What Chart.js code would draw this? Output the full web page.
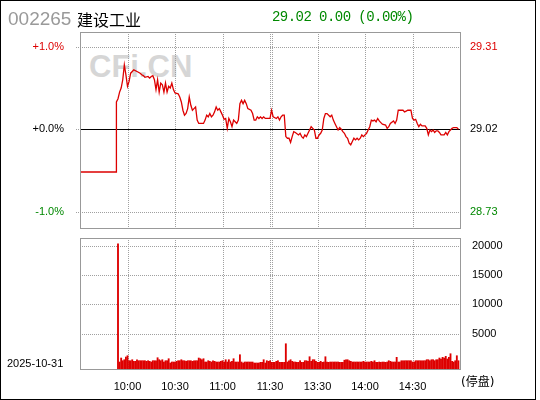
<!DOCTYPE html>
<html lang="zh">
<head>
<meta charset="UTF-8">
<title>002265 建设工业 分时</title>
<script src="https://cdn.jsdelivr.net/npm/chart.js"></script>
<style>
    body {
        margin: 0;
        background: #fff;
    }
    #wrap {
        position: relative;
        width: 540px;
        height: 400px;
        overflow: hidden;
    }
    #frame {
        position: absolute;
        left: 0; top: 0;
        width: 536px; height: 400px;
        box-sizing: border-box;
        border: 1px solid #000;
    }
    .txt {
        position: absolute;
        white-space: nowrap;
        line-height: 1;
        z-index: 2;
    }
    #code { left: 8px; top: 8px; font: 19px "Liberation Sans", Arial, sans-serif; color: #999; }
    #name { left: 77px; top: 7px; font: 16px "Noto Sans CJK SC", sans-serif; color: #000; }
    #quote { left: 272px; top: 9px; font: 14px "Liberation Mono", monospace; letter-spacing: -0.55px; color: #008800; }
    #mark { left: 89px; top: 49px; font: bold 31px "Liberation Sans", Arial, sans-serif; color: #d6d6d6; z-index: 0; }
    #date { left: 7px; top: 357px; font: 11px "Liberation Sans", sans-serif; color: #000; }
    #halt { left: 461px; top: 372px; width: 50px; font: 12px "DejaVu Sans", "Noto Sans CJK SC", sans-serif; color: #000; }
    canvas { position: absolute; left: 0; z-index: 1; }
    #price { top: 0; }
    #volume { top: 232px; }
</style>
</head>
<body>
<div id="wrap">
    <div id="frame"></div>
    <div class="txt" id="mark">CFi.CN</div>
    <div class="txt" id="code">002265</div>
    <div class="txt" id="name">建设工业</div>
    <div class="txt" id="quote">29.02 0.00 (0.00%)</div>
    <div class="txt" id="date">2025-10-31</div>
    <div class="txt" id="halt">(停盘)</div>
    <canvas id="price" width="540" height="236"></canvas>
    <canvas id="volume" width="540" height="168"></canvas>
</div>

<script>
// previous close, used for the right-hand price labels
const BASE_PRICE = 29.02;

// x axis: minutes since 9:30 (0..120 morning, 120..240 afternoon)
const timeTicks = [30, 60, 90, 120, 150, 180, 210];
const timeLabels = ['10:00', '10:30', '11:00', '11:30', '13:30', '14:00', '14:30'];
const LUNCH = 120;

// price line, change in % against previous close
const priceMinutes = [0, 23, 23, 24, 25, 26, 27, 28, 29, 30, 31, 32, 33, 34, 36, 38, 39, 40, 41, 43,
    44, 45, 46, 47, 48, 49, 50, 51, 52, 53, 54, 55, 56, 57, 58, 59, 60, 62, 63, 64,
    65, 66, 67, 68, 69, 70, 71, 72, 73, 74, 75, 78, 79, 80, 81, 82, 83, 84, 85, 86,
    87, 88, 89, 90, 91, 92, 93, 94, 95, 96, 97, 98, 99, 100, 101, 102, 103, 104, 105, 106,
    108, 109, 110, 111, 112, 113, 114, 115, 116, 117, 118, 120, 121, 122, 124, 125, 126, 127, 128, 129,
    130, 131, 132, 133, 134, 135, 136, 138, 139, 140, 141, 142, 143, 144, 145, 146, 147, 148, 149, 150,
    151, 152, 153, 154, 155, 156, 158, 159, 160, 161, 162, 163, 164, 165, 166, 167, 168, 169, 170, 171,
    172, 173, 174, 175, 176, 177, 178, 179, 181, 182, 183, 184, 185, 186, 187, 188, 189, 190, 191, 193,
    194, 195, 196, 198, 199, 200, 201, 204, 205, 206, 207, 209, 210, 211, 212, 213, 214, 215, 216, 218,
    219, 220, 221, 222, 223, 224, 225, 226, 227, 228, 230, 231, 232, 233, 234, 235, 236, 238, 239];
const pricePct = [-0.52, -0.52, 0.33, 0.37, 0.45, 0.50, 0.60, 0.78, 0.66, 0.52, 0.58, 0.68, 0.70, 0.72, 0.70, 0.68, 0.66, 0.65, 0.63, 0.64,
    0.62, 0.64, 0.65, 0.60, 0.48, 0.60, 0.45, 0.56, 0.54, 0.45, 0.56, 0.45, 0.52, 0.50, 0.56, 0.48, 0.44, 0.43, 0.39, 0.33,
    0.23, 0.17, 0.19, 0.25, 0.39, 0.29, 0.23, 0.25, 0.27, 0.11, 0.07, 0.07, 0.11, 0.17, 0.15, 0.19, 0.15, 0.17, 0.21, 0.27,
    0.23, 0.25, 0.21, 0.17, 0.12, 0.13, 0.01, 0.13, 0.09, 0.03, 0.11, 0.09, 0.07, 0.11, 0.31, 0.35, 0.31, 0.35, 0.31, 0.25,
    0.23, 0.19, 0.11, 0.11, 0.15, 0.13, 0.15, 0.13, 0.15, 0.13, 0.13, 0.13, 0.23, 0.15, 0.13, 0.15, 0.11, 0.15, 0.17, 0.17,
    -0.09, -0.11, -0.11, -0.16, -0.09, -0.03, -0.04, -0.07, -0.05, -0.09, -0.11, -0.07, -0.09, -0.05, -0.01, 0.03, 0.01, -0.01, -0.11, -0.11,
    -0.07, -0.05, -0.01, 0.13, 0.19, 0.19, 0.15, 0.17, 0.11, 0.07, 0.03, -0.01, 0.02, 0.00, -0.03, -0.05, -0.09, -0.11, -0.17, -0.19,
    -0.15, -0.11, -0.13, -0.11, -0.13, -0.11, -0.07, -0.09, -0.05, -0.01, 0.03, 0.11, 0.10, 0.11, 0.09, 0.13, 0.10, 0.08, 0.06, 0.05,
    0.01, 0.03, 0.07, 0.10, 0.07, 0.11, 0.23, 0.23, 0.21, 0.22, 0.23, 0.23, 0.13, 0.11, 0.12, 0.07, 0.03, 0.06, 0.04, 0.04,
    0.01, -0.07, -0.01, -0.03, -0.01, -0.04, -0.02, -0.02, -0.04, -0.07, -0.07, -0.04, -0.07, -0.03, -0.01, 0.01, 0.02, 0.02, 0.00];
const pctTicks = [-1, 0, 1];
const PCT_MIN = -1.2, PCT_MAX = 1.18;

// volume, one bar per minute starting at VOL_START
const VOL_START = 24;
const volumes = [20300, 190, 870, 410, 580, 1040, 1260, 410, 410, 580, 310, 310, 580, 410, 410, 410, 410, 410, 310, 410,
    310, 190, 410, 410, 410, 920, 580, 410, 580, 190, 410, 410, 750, 20, 190, 190, 190, 310, 410, 410,
    580, 410, 410, 310, 410, 410, 410, 310, 410, 410, 410, 870, 750, 580, 750, 190, 190, 410, 310, 190,
    410, 310, 190, 190, 190, 310, 410, 190, 580, 190, 580, 190, 310, 750, 190, 190, 190, 1430, 190, 20,
    190, 190, 190, 190, 190, 190, 20, 20, 20, 20,
    140, 140, 580, 20, 410, 310, 410, 140, 140, 140, 310, 410, 140, 140, 140, 140,
    3300, 190, 410, 580, 310, 190, 190, 140, 140, 410, 140, 140, 410, 410, 310, 1090, 310, 580, 580, 310,
    140, 140, 310, 140, 190, 1090, 190, 140, 190, 190, 190, 190, 190, 190, 140, 140, 140, 500, 580, 580,
    410, 310, 190, 190, 190, 190, 190, 190, 190, 310, 190, 190, 190, 190, 310, 190, 410, 140, 140, 190,
    140, 190, 190, 140, 190, 410, 310, 190, 190, 190, 990, 190, 190, 410, 410, 410, 410, 410, 410, 410,
    190, 190, 410, 410, 410, 410, 410, 410, 410, 580, 580, 410, 580, 580, 410, 580, 580, 870, 700, 990,
    870, 1160, 700, 990, 1600, 310, 190, 410, 1260, 410];
const volTicks = [5000, 10000, 15000, 20000];
const VOL_MIN = -1000, VOL_MAX = 21300;

const RED = '#dd0000';
const GREEN = '#008800';

Chart.defaults.font.family = '"Liberation Sans", sans-serif';
Chart.defaults.font.size = 11;
Chart.defaults.color = '#000';

// fixed axis sizes so both plots line up
function fixWidth(w) {
    return function (s) {
        s.width = w;
        s.paddingTop = 0; s.paddingBottom = 0; s.paddingLeft = 0; s.paddingRight = 0;
    };
}

function line(ctx, x1, y1, x2, y2) {
    ctx.beginPath();
    ctx.moveTo(x1, y1);
    ctx.lineTo(x2, y2);
    ctx.stroke();
}

// dotted grid, zero line and plot frame
const quoteGrid = {
    id: 'quoteGrid',
    beforeDatasetsDraw(chart, args, opts) {
        const { ctx, chartArea: a, scales } = chart;
        const yScale = scales[opts.yAxis];
        ctx.save();
        ctx.lineWidth = 1;
        ctx.strokeStyle = '#a0a0a0';
        ctx.setLineDash([1, 1]);
        timeTicks.forEach(t => {
            const x = Math.round(scales.x.getPixelForValue(t)) + 0.5;
            line(ctx, x, a.top, x, a.bottom);
        });
        const xl = Math.round(scales.x.getPixelForValue(LUNCH)) + 2.5;
        line(ctx, xl, a.top, xl, a.bottom);
        opts.hTicks.forEach(v => {
            const y = Math.round(yScale.getPixelForValue(v)) + 0.5;
            line(ctx, a.left - opts.stub, y, v === 0 && opts.zero ? a.left : a.right, y);
        });
        ctx.setLineDash([]);
        if (opts.zero) {
            const y0 = Math.round(yScale.getPixelForValue(0)) + 0.5;
            ctx.strokeStyle = '#000';
            line(ctx, a.left, y0, a.right, y0);
        }
        ctx.restore();
    },
    afterDatasetsDraw(chart) {
        const { ctx, chartArea: a } = chart;
        ctx.save();
        ctx.strokeStyle = '#999';
        ctx.lineWidth = 1;
        ctx.strokeRect(a.left + 0.5, a.top + 0.5, a.right - a.left, a.bottom - a.top);
        ctx.restore();
    }
};

function pctColor(c) {
    const v = c.tick.value;
    return v > 0 ? RED : (v < 0 ? GREEN : '#000');
}

new Chart(document.getElementById('price'), {
    type: 'line',
    data: {
        datasets: [{
            data: priceMinutes.map((m, i) => ({ x: m, y: pricePct[i] })),
            borderColor: RED,
            borderWidth: 1.3,
            pointRadius: 0,
            tension: 0,
            fill: false
        }]
    },
    options: {
        responsive: false,
        animation: false,
        layout: { padding: { top: 32, bottom: 8, left: 0, right: 0 } },
        plugins: {
            legend: { display: false },
            tooltip: { enabled: false },
            quoteGrid: { yAxis: 'y', hTicks: pctTicks, stub: 4, zero: true }
        },
        scales: {
            x: { type: 'linear', min: 0, max: 240, display: false },
            y: {
                position: 'left', min: PCT_MIN, max: PCT_MAX,
                grid: { display: false }, border: { display: false },
                afterFit: fixWidth(80),
                afterBuildTicks: s => { s.ticks = pctTicks.map(v => ({ value: v })); },
                ticks: {
                    padding: 8,
                    color: pctColor,
                    callback: v => (v < 0 ? '' : '+') + v.toFixed(1) + '%'
                }
            },
            yR: {
                position: 'right', min: PCT_MIN, max: PCT_MAX,
                grid: { display: false }, border: { display: false },
                afterFit: fixWidth(80),
                afterBuildTicks: s => { s.ticks = pctTicks.map(v => ({ value: v })); },
                ticks: {
                    padding: 2,
                    color: pctColor,
                    callback: v => (BASE_PRICE * (1 + v / 100)).toFixed(2)
                }
            }
        }
    },
    plugins: [quoteGrid]
});

new Chart(document.getElementById('volume'), {
    type: 'bar',
    data: {
        datasets: [{
            data: volumes.map((v, i) => ({ x: VOL_START + i, y: v })),
            backgroundColor: RED,
            borderWidth: 0,
            barThickness: 1.2,
            base: VOL_MIN
        }]
    },
    options: {
        responsive: false,
        animation: false,
        layout: { padding: { top: 6, bottom: 0, left: 80, right: 0 } },
        plugins: {
            legend: { display: false },
            tooltip: { enabled: false },
            quoteGrid: { yAxis: 'y', hTicks: volTicks, stub: 0, zero: false }
        },
        scales: {
            x: {
                type: 'linear', min: 0, max: 240, offset: false,
                grid: { display: false }, border: { display: false },
                afterFit: s => {
                    s.height = 31;
                    s.paddingLeft = 0; s.paddingRight = 0;
                },
                afterBuildTicks: s => { s.ticks = timeTicks.map(v => ({ value: v })); },
                ticks: {
                    padding: 3, maxRotation: 0, autoSkip: false,
                    callback: (v, i) => timeLabels[i]
                }
            },
            y: {
                position: 'right', min: VOL_MIN, max: VOL_MAX,
                grid: { display: false }, border: { display: false },
                afterFit: fixWidth(80),
                afterBuildTicks: s => { s.ticks = volTicks.map(v => ({ value: v })); },
                ticks: { padding: 4, callback: v => String(v) }
            }
        }
    },
    plugins: [quoteGrid]
});
</script>
</body>
</html>
